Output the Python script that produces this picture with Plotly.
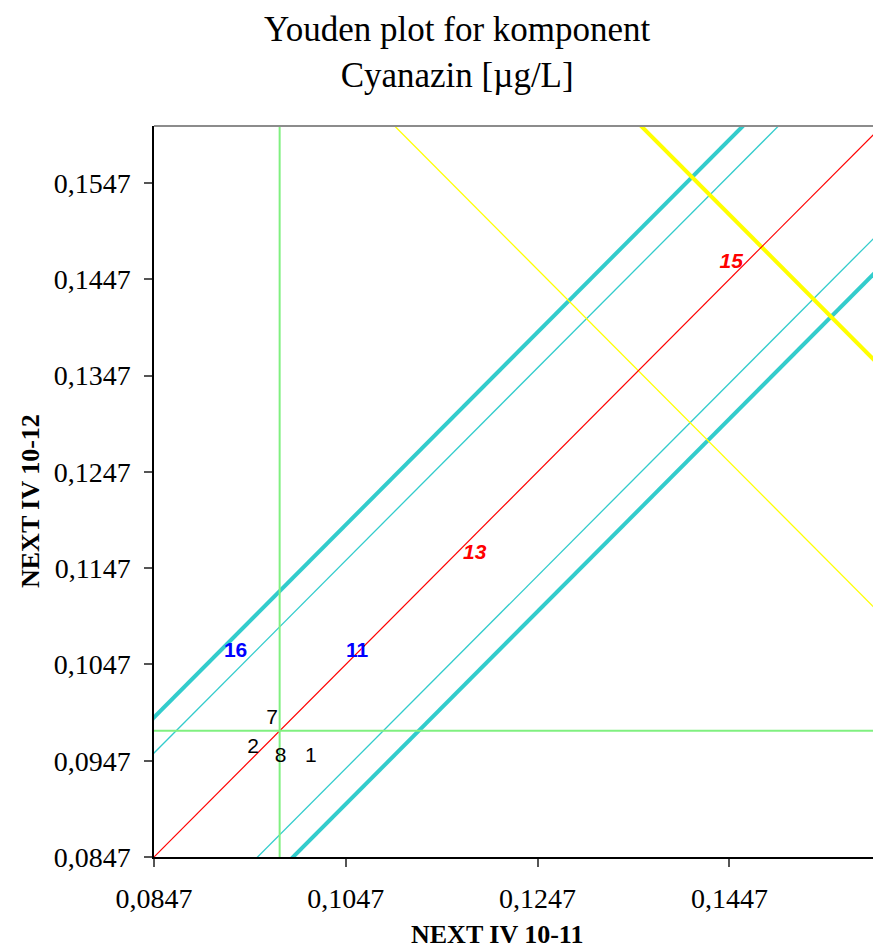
import plotly.graph_objects as go

# ---- data ----
x_range = [0.0847, 0.15967]
y_range = [0.0847, 0.16061]
tick_vals = [0.0847, 0.0947, 0.1047, 0.1147, 0.1247, 0.1347, 0.1447, 0.1547]
tick_text = ["0,0847", "0,0947", "0,1047", "0,1147", "0,1247", "0,1347", "0,1447", "0,1547"]
x_tick_vals = [0.0847, 0.1047, 0.1247, 0.1447]
x_tick_text = ["0,0847", "0,1047", "0,1247", "0,1447"]

median_x = 0.0978
median_y = 0.0978
inner_offset = 0.0108   # thin turquoise lines
outer_offset = 0.0145   # thick turquoise lines
yellow_thin_sum = 0.2704
yellow_thick_sum = 0.2961

lab_names = ["7", "2", "8", "1", "16", "11", "13", "15"]
lab_x = [0.09702, 0.09504, 0.09789, 0.10105, 0.09321, 0.10588, 0.11814, 0.14488]
lab_y = [0.09908, 0.09605, 0.09515, 0.09515, 0.10602, 0.10602, 0.11616, 0.14637]
lab_group = ["ok", "ok", "ok", "ok", "blue", "blue", "red", "red"]

title_text = "Youden plot for komponent<br>Cyanazin [µg/L]"
x_title = "NEXT IV 10-11"
y_title = "NEXT IV 10-12"

# ---- figure ----
fig = go.Figure()
xs = [0.05, 0.25]

def diag(c, color, width):
    fig.add_trace(go.Scatter(
        x=xs, y=[v - median_x + median_y + c for v in xs],
        mode="lines", line=dict(color=color, width=width),
        hoverinfo="skip", showlegend=False))

def anti(s, color, width):
    fig.add_trace(go.Scatter(
        x=xs, y=[s - v for v in xs],
        mode="lines", line=dict(color=color, width=width),
        hoverinfo="skip", showlegend=False))

turq = "#33CCCC"
diag(outer_offset, turq, 4)
diag(-outer_offset, turq, 4)
diag(inner_offset, turq, 1.3)
diag(-inner_offset, turq, 1.3)
anti(yellow_thin_sum, "#FFFF00", 1.3)
anti(yellow_thick_sum, "#FFFF00", 4)
diag(0, "#FF0000", 1.2)

green = "#80F080"
fig.add_trace(go.Scatter(x=[median_x, median_x], y=[0.0, 0.3], mode="lines",
                         line=dict(color=green, width=2), hoverinfo="skip", showlegend=False))
fig.add_trace(go.Scatter(x=[0.0, 0.3], y=[median_y, median_y], mode="lines",
                         line=dict(color=green, width=2), hoverinfo="skip", showlegend=False))

styles = {
    "ok": ("black", "Liberation Sans", "<span>{}</span>"),
    "blue": ("#0000FF", "Liberation Sans", "<b>{}</b>"),
    "red": ("#FF0000", "Liberation Sans", "<b><i>{}</i></b>"),
}
for g in ["ok", "blue", "red"]:
    idx = [i for i, gg in enumerate(lab_group) if gg == g]
    color, fam, fmt = styles[g]
    fig.add_trace(go.Scatter(
        x=[lab_x[i] for i in idx], y=[lab_y[i] for i in idx],
        text=[fmt.format(lab_names[i]) for i in idx],
        mode="text", textposition="middle center",
        textfont=dict(color=color, family=fam, size=21),
        hoverinfo="skip", showlegend=False))

serif = "Liberation Serif"
fig.update_layout(
    width=873, height=951,
    margin=dict(l=154, r=0, t=126, b=94),
    paper_bgcolor="white", plot_bgcolor="white",
    xaxis=dict(range=x_range, tickvals=x_tick_vals, ticktext=x_tick_text,
               showgrid=False, zeroline=False, showline=True, linecolor="black", linewidth=1.5,
               ticks="outside", ticklen=8, tickcolor="#555555", tickwidth=1.5,
               ticklabelstandoff=8,
               tickfont=dict(family=serif, size=28, color="black")),
    yaxis=dict(range=y_range, tickvals=tick_vals, ticktext=tick_text,
               showgrid=False, zeroline=False, showline=True, linecolor="black", linewidth=1.5,
               ticks="outside", ticklen=8, tickcolor="#555555", tickwidth=1.5,
               ticklabelstandoff=8,
               tickfont=dict(family=serif, size=28, color="black")),
    shapes=[dict(type="line", xref="paper", yref="paper", x0=0, x1=1, y0=1, y1=1,
                 line=dict(color="#8C8C8C", width=2))],
    annotations=[
        dict(text=title_text, xref="paper", yref="paper",
             x=(457 - 154) / 719, y=(857 - 52) / 731, xanchor="center", yanchor="middle",
             showarrow=False, font=dict(family=serif, size=35, color="black")),
        dict(text="<b>" + x_title + "</b>", xref="paper", yref="paper",
             x=(497 - 154) / 719, y=-(935 - 857) / 731, xanchor="center", yanchor="middle",
             showarrow=False, font=dict(family=serif, size=26, color="black")),
        dict(text="<b>" + y_title + "</b>", xref="paper", yref="paper", textangle=-90,
             x=(30 - 154) / 719, y=(857 - 501) / 731, xanchor="center", yanchor="middle",
             showarrow=False, font=dict(family=serif, size=26, color="black")),
    ],
)

fig.write_html("out.html")
